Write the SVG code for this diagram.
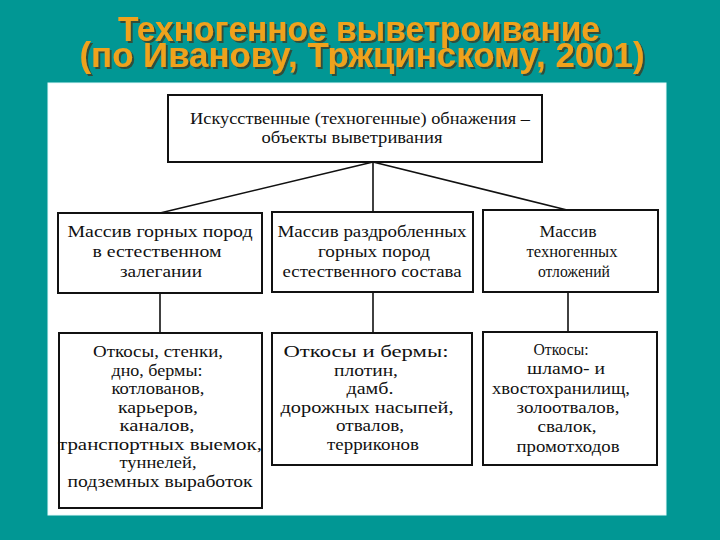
<svg xmlns="http://www.w3.org/2000/svg" width="720" height="540" viewBox="0 0 720 540">
<defs>
<filter id="sh" x="-5%" y="-20%" width="110%" height="150%">
<feDropShadow dx="2" dy="2" stdDeviation="0.6" flood-color="#3b3b28" flood-opacity="0.8"/>
</filter>
</defs>
<style>
.title{font-family:"Liberation Sans","DejaVu Sans",sans-serif;font-weight:bold;font-size:35px;fill:#EFA21E;text-anchor:middle}
.box{fill:#fff;stroke:#111;stroke-width:2}
.t{font-family:"Liberation Serif","Times New Roman","DejaVu Serif",serif;font-size:16px;fill:#111;text-anchor:middle}
.conn line{stroke:#111;stroke-width:1.6}
</style>
<rect x="0" y="0" width="720" height="540" fill="#019794"/>
<g id="title" filter="url(#sh)">
<text class="title" x="359" y="41" textLength="482" lengthAdjust="spacingAndGlyphs">Техногенное выветроивание</text>
<text class="title" x="362" y="67" textLength="565" lengthAdjust="spacingAndGlyphs">(по Иванову, Тржцинскому, 2001)</text>
</g>
<rect x="48" y="83" width="618" height="432" fill="#fff" stroke="#e6fbfb" stroke-width="1"/>
<g class="conn" id="connectors">
<line x1="373" y1="162" x2="160" y2="213"/>
<line x1="373" y1="162" x2="373" y2="212"/>
<line x1="373" y1="162" x2="567" y2="210"/>
<line x1="160" y1="293" x2="160" y2="333"/>
<line x1="373" y1="292" x2="373" y2="333"/>
<line x1="568" y1="292" x2="568" y2="332"/>
</g>
<g id="top">
<rect class="box" x="168" y="95" width="374" height="67"/>
<text class="t" x="360" y="124" textLength="340" lengthAdjust="spacingAndGlyphs">Искусственные (техногенные) обнажения –</text>
<text class="t" x="352" y="143" textLength="181" lengthAdjust="spacingAndGlyphs">объекты выветривания</text>
</g>
<g id="massif1">
<rect class="box" x="58" y="213" width="204" height="80"/>
<text class="t" x="160" y="237" textLength="185" lengthAdjust="spacingAndGlyphs">Массив горных пород</text>
<text class="t" x="157" y="257" textLength="129" lengthAdjust="spacingAndGlyphs">в естественном</text>
<text class="t" x="161" y="277" textLength="82" lengthAdjust="spacingAndGlyphs">залегании</text>
</g>
<g id="massif2">
<rect class="box" x="272" y="212" width="201" height="80"/>
<text class="t" x="372" y="237" textLength="189" lengthAdjust="spacingAndGlyphs">Массив раздробленных</text>
<text class="t" x="374" y="257" textLength="112" lengthAdjust="spacingAndGlyphs">горных пород</text>
<text class="t" x="372" y="277" textLength="179" lengthAdjust="spacingAndGlyphs">естественного состава</text>
</g>
<g id="massif3">
<rect class="box" x="483" y="210" width="175" height="82"/>
<text class="t" x="568" y="237" textLength="57" lengthAdjust="spacingAndGlyphs">Массив</text>
<text class="t" x="572" y="257" textLength="91" lengthAdjust="spacingAndGlyphs">техногенных</text>
<text class="t" x="574" y="277" textLength="72" lengthAdjust="spacingAndGlyphs">отложений</text>
</g>
<g id="slopes1">
<rect class="box" x="59" y="333" width="203" height="175"/>
<text class="t" x="158" y="357" textLength="130" lengthAdjust="spacingAndGlyphs">Откосы, стенки,</text>
<text class="t" x="157" y="376" textLength="91" lengthAdjust="spacingAndGlyphs">дно, бермы:</text>
<text class="t" x="158" y="394" textLength="93" lengthAdjust="spacingAndGlyphs">котлованов,</text>
<text class="t" x="158" y="413" textLength="80" lengthAdjust="spacingAndGlyphs">карьеров,</text>
<text class="t" x="157" y="431" textLength="75" lengthAdjust="spacingAndGlyphs">каналов,</text>
<text class="t" x="160" y="450" textLength="204" lengthAdjust="spacingAndGlyphs">транспортных выемок,</text>
<text class="t" x="158" y="468" textLength="77" lengthAdjust="spacingAndGlyphs">туннелей,</text>
<text class="t" x="160" y="487" textLength="185" lengthAdjust="spacingAndGlyphs">подземных выработок</text>
</g>
<g id="slopes2">
<rect class="box" x="272" y="333" width="200" height="132"/>
<text class="t" x="366" y="357" textLength="165" lengthAdjust="spacingAndGlyphs">Откосы и бермы:</text>
<text class="t" x="366" y="376" textLength="64" lengthAdjust="spacingAndGlyphs">плотин,</text>
<text class="t" x="370" y="394" textLength="47" lengthAdjust="spacingAndGlyphs">дамб.</text>
<text class="t" x="367" y="413" textLength="173" lengthAdjust="spacingAndGlyphs">дорожных насыпей,</text>
<text class="t" x="370" y="431" textLength="68" lengthAdjust="spacingAndGlyphs">отвалов,</text>
<text class="t" x="373" y="450" textLength="92" lengthAdjust="spacingAndGlyphs">терриконов</text>
</g>
<g id="slopes3">
<rect class="box" x="483" y="332" width="174" height="133"/>
<text class="t" x="561" y="355" textLength="55" lengthAdjust="spacingAndGlyphs">Откосы:</text>
<text class="t" x="566" y="374" textLength="78" lengthAdjust="spacingAndGlyphs">шламо- и</text>
<text class="t" x="561" y="394" textLength="138" lengthAdjust="spacingAndGlyphs">хвостохранилищ,</text>
<text class="t" x="568" y="413" textLength="103" lengthAdjust="spacingAndGlyphs">золоотвалов,</text>
<text class="t" x="567" y="432" textLength="59" lengthAdjust="spacingAndGlyphs">свалок,</text>
<text class="t" x="568" y="452" textLength="103" lengthAdjust="spacingAndGlyphs">промотходов</text>
</g>
</svg>
